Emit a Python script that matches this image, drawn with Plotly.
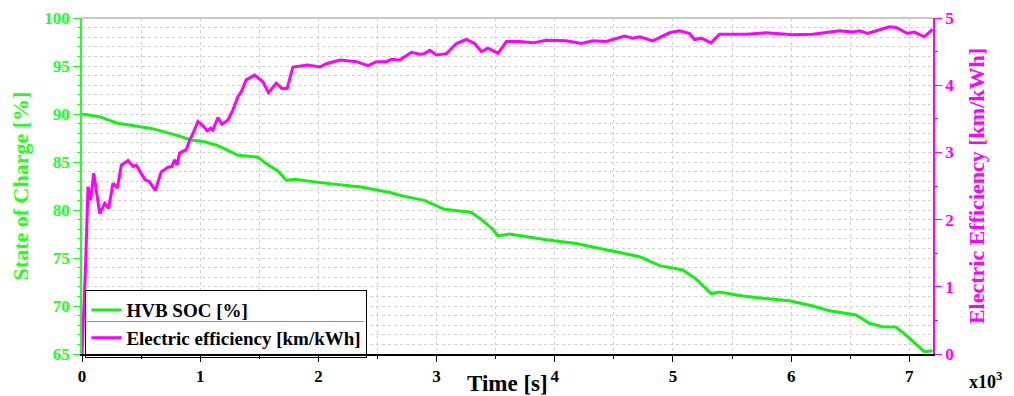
import plotly.graph_objects as go

# ---- data (time in seconds) ----
soc_time = [0, 152, 304, 586, 811, 924, 1037, 1150, 1319, 1488, 1572, 1657, 1727, 1797,
            2051, 2361, 2615, 2700, 2897, 3066, 3291, 3380, 3474, 3519, 3618, 3928, 4181,
            4491, 4717, 4886, 5083, 5196, 5323, 5393, 5590, 5759, 5985, 6182, 6323, 6549,
            6661, 6774, 6887, 6985, 7126, 7196]
soc_values = [90.0, 89.7, 89.03, 88.5, 87.75, 87.3, 87.1, 86.7, 85.7, 85.5, 84.7, 84.06, 83.1, 83.2,
              82.8, 82.4, 81.8, 81.5, 81.0, 80.07, 79.76, 79.0, 78.0, 77.3, 77.5, 76.9, 76.5,
              75.7, 75.14, 74.2, 73.75, 72.8, 71.3, 71.45, 71.04, 70.8, 70.55, 70.0, 69.5, 69.06,
              68.2, 67.85, 67.8, 66.8, 65.24, 65.35]

eff_time = [0, 30, 51, 73, 99, 150, 192, 226, 262, 299, 333, 389, 431, 459, 530, 572, 620,
            670, 727, 761, 783, 803, 826, 882, 910, 938, 981, 1031, 1059, 1088, 1107, 1150,
            1183, 1234, 1276, 1319, 1347, 1389, 1460, 1530, 1578, 1643, 1691, 1735, 1784,
            1910, 2012, 2068, 2181, 2322, 2420, 2491, 2576, 2618, 2688, 2787, 2857, 2899,
            2942, 2998, 3083, 3167, 3252, 3322, 3379, 3435, 3519, 3590, 3702, 3815, 3928,
            4097, 4224, 4322, 4435, 4548, 4590, 4660, 4717, 4829, 4970, 5055, 5140, 5182,
            5238, 5323, 5393, 5619, 5788, 6013, 6182, 6408, 6520, 6577, 6647, 6830, 6887,
            6985, 7041, 7126, 7196]
eff_values = [0.0, 1.3, 2.49, 2.29, 2.69, 2.09, 2.24, 2.17, 2.54, 2.47, 2.81, 2.88, 2.79, 2.81,
              2.60, 2.56, 2.43, 2.71, 2.78, 2.79, 2.89, 2.81, 2.99, 3.04, 3.18, 3.28, 3.46,
              3.38, 3.32, 3.36, 3.33, 3.52, 3.42, 3.48, 3.63, 3.83, 3.90, 4.08, 4.15, 4.05,
              3.89, 4.03, 3.95, 3.95, 4.27, 4.30, 4.27, 4.32, 4.375, 4.35, 4.29, 4.35, 4.35,
              4.385, 4.375, 4.49, 4.46, 4.47, 4.52, 4.45, 4.47, 4.62, 4.68, 4.62, 4.50, 4.55,
              4.475, 4.65, 4.65, 4.63, 4.67, 4.66, 4.62, 4.66, 4.65, 4.70, 4.73, 4.70, 4.72,
              4.66, 4.78, 4.81, 4.77, 4.68, 4.70, 4.63, 4.76, 4.76, 4.78, 4.75, 4.76, 4.81,
              4.79, 4.81, 4.77, 4.87, 4.86, 4.77, 4.79, 4.72, 4.83]

x_tick_vals = [0, 1000, 2000, 3000, 4000, 5000, 6000, 7000]
x_tick_text = ["0", "1", "2", "3", "4", "5", "6", "7"]

GREEN = "#14ee14"
GREEN_AX = "#22ff22"
MAGENTA = "#ff00ff"
FONT = "Liberation Serif"
GRID = "#d0d0d0"

fig = go.Figure()
fig.add_trace(go.Scatter(x=soc_time, y=soc_values, mode="lines", name="HVB SOC [%]",
                         line=dict(color=GREEN, width=3), yaxis="y"))
fig.add_trace(go.Scatter(x=eff_time, y=eff_values, mode="lines", name="Electric efficiency [km/kWh]",
                         line=dict(color=MAGENTA, width=3), yaxis="y2"))

fig.update_layout(
    width=1014, height=396,
    margin=dict(l=82, r=81, t=18, b=42),
    paper_bgcolor="white", plot_bgcolor="white",
    font=dict(family=FONT),
    xaxis=dict(
        range=[0, 7200], tickvals=x_tick_vals, ticktext=x_tick_text, automargin=False,
        showline=True, linecolor="black", linewidth=1.5,
        ticks="outside", ticklen=6, tickcolor="black",
        tickfont=dict(family=FONT, size=17, color="black", weight="bold"),
        showgrid=True, gridcolor=GRID, griddash="dot", gridwidth=1,
        minor=dict(dtick=500, tick0=0, ticks="outside", ticklen=3, tickcolor="black",
                   showgrid=True, gridcolor=GRID, griddash="dot"),
        zeroline=False,
    ),
    yaxis=dict(
        range=[65, 100], dtick=5, tick0=65, automargin=False,
        showline=True, linecolor=GREEN_AX, linewidth=1.5,
        ticks="outside", ticklen=7, tickcolor=GREEN_AX,
        tickfont=dict(family=FONT, size=17, color=GREEN_AX, weight="bold"),
        showgrid=True, gridcolor=GRID, griddash="dot", gridwidth=1,
        minor=dict(dtick=1, ticks="outside", ticklen=3, tickcolor=GREEN_AX,
                   showgrid=True, gridcolor=GRID, griddash="dot"),
        title=dict(text="State of Charge [%]",
                   font=dict(family=FONT, size=22, color=GREEN_AX, weight="bold"), standoff=10),
        zeroline=False,
    ),
    yaxis2=dict(
        range=[0, 5], dtick=1, tick0=0, overlaying="y", side="right", automargin=False,
        showline=True, linecolor=MAGENTA, linewidth=1.5,
        ticks="outside", ticklen=7, tickcolor=MAGENTA,
        tickfont=dict(family=FONT, size=17, color=MAGENTA, weight="bold"),
        showgrid=False,
        minor=dict(dtick=0.5, ticks="outside", ticklen=3, tickcolor=MAGENTA),
        title=dict(text="Electric Efficiency [km/kWh]",
                   font=dict(family=FONT, size=22, color=MAGENTA, weight="bold"), standoff=15),
        zeroline=False,
    ),
    legend=dict(
        x=0.004, y=0.19, xanchor="left", yanchor="top",
        bgcolor="rgba(0,0,0,0)", bordercolor="black", borderwidth=1,
        font=dict(family=FONT, size=19, color="black", weight="bold"),
        itemwidth=30,
    ),
    showlegend=True,
    shapes=[
        dict(type="line", xref="paper", yref="paper", x0=0, x1=1, y0=1, y1=1,
             line=dict(color="#c8c8c8", width=2)),
        dict(type="rect", xref="paper", yref="paper", x0=0.0035, x1=0.334, y0=0.004, y1=0.19,
             fillcolor="white", line=dict(width=0), layer="above"),
        dict(type="rect", xref="paper", yref="paper", x0=0.006, x1=0.331, y0=0.0955, y1=0.0985,
             fillcolor="#8c8c8c", line=dict(width=0), layer="above"),
    ],
    annotations=[
        dict(text="Time [s]", xref="paper", yref="paper", x=0.5, y=0, yshift=-29,
             showarrow=False, font=dict(family=FONT, size=23, color="black", weight="bold"),
             xanchor="center", yanchor="middle"),
        dict(text="x10<sup>3</sup>", xref="paper", yref="paper", x=1.0, y=0, xshift=52, yshift=-26,
             showarrow=False, font=dict(family=FONT, size=18, color="black", weight="bold"),
             xanchor="center", yanchor="middle"),
    ],
)

fig.write_html("out.html")
